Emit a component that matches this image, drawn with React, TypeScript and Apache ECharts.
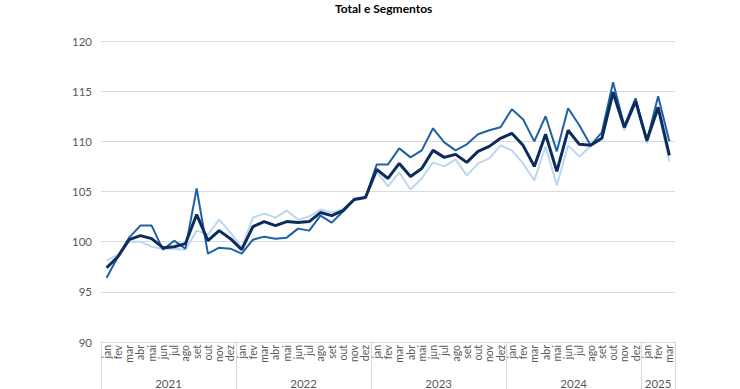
import React, { useEffect, useRef } from "react";
import * as echarts from "echarts";

const monthNames = ["jan", "fev", "mar", "abr", "mai", "jun", "jul", "ago", "set", "out", "nov", "dez"];
const years = ["2021", "2022", "2023", "2024", "2025"];
const monthsPerYear = [12, 12, 12, 12, 3];
const yTicks = [90, 95, 100, 105, 110, 115, 120];

const total = [
  97.4, 98.5, 100.2, 100.6, 100.3, 99.4, 99.5, 99.8, 102.7, 100.1, 101.1, 100.3,
  99.2, 101.5, 102.0, 101.6, 102.0, 101.9, 102.0, 102.9, 102.6, 103.1, 104.2, 104.4,
  107.2, 106.3, 107.8, 106.5, 107.3, 109.1, 108.4, 108.7, 107.9, 109.0, 109.5, 110.3,
  110.8, 109.6, 107.5, 110.7, 107.0, 111.1, 109.7, 109.6, 110.3, 114.9, 111.4, 114.0,
  110.1, 113.4, 108.6,
];
const segmentA = [
  96.4, 98.5, 100.4, 101.6, 101.6, 99.2, 100.1, 99.3, 105.3, 98.8, 99.4, 99.3,
  98.8, 100.2, 100.5, 100.3, 100.4, 101.3, 101.1, 102.6, 101.9, 103.0, 104.2, 104.4,
  107.7, 107.7, 109.3, 108.4, 109.1, 111.3, 109.9, 109.1, 109.7, 110.7, 111.1, 111.4,
  113.2, 112.2, 110.0, 112.5, 109.0, 113.3, 111.6, 109.6, 110.9, 115.9, 111.5, 114.3,
  110.0, 114.5, 110.0,
];
const segmentB = [
  98.1, 98.7, 100.0, 100.0, 99.5, 99.3, 99.3, 99.2, 101.1, 100.7, 102.2, 100.9,
  99.4, 102.4, 102.8, 102.4, 103.1, 102.2, 102.5, 103.2, 102.9, 103.2, 104.3, 104.5,
  107.0, 105.5, 106.9, 105.2, 106.3, 107.9, 107.5, 108.2, 106.6, 107.8, 108.3, 109.6,
  109.1, 107.8, 106.1, 109.5, 105.6, 109.6, 108.5, 109.5, 110.3, 114.6, 111.1, 113.8,
  109.8, 113.1, 108.0,
];

export default function App() {
  const ref = useRef<HTMLDivElement>(null);
  useEffect(() => {
    if (!ref.current) return;
    const chart = echarts.init(ref.current, undefined, { renderer: "svg" });

    const categories: string[] = [];
    const boundaries: number[] = [0];
    const centers: number[] = [];
    let acc = 0;
    years.forEach((y, yi) => {
      const n = monthsPerYear[yi];
      for (let m = 0; m < n; m++) categories.push(monthNames[m]);
      centers.push(acc + n / 2);
      acc += n;
      boundaries.push(acc);
    });
    const yearAt = (v: number) => {
      const idx = centers.findIndex((c) => Math.abs(c - v) < 0.01);
      return idx >= 0 ? years[idx] : "";
    };

    const font = "Lato, 'Open Sans', sans-serif";
    chart.setOption({
      animation: false,
      title: {
        text: "Total e Segmentos",
        left: 330,
        top: -3,
        textStyle: { fontFamily: font, fontSize: 12, fontWeight: "bold", color: "#000" },
      },
      grid: { left: 101, right: 65, top: 41, bottom: 47, containLabel: false },
      xAxis: [
        {
          type: "category",
          data: categories,
          boundaryGap: true,
          axisLine: { show: true, lineStyle: { color: "#d9d9d9", width: 1 } },
          axisTick: { show: false },
          axisLabel: {
            rotate: 90,
            interval: 0,
            margin: 3,
            fontFamily: font,
            fontSize: 10.5,
            color: "#595959",
          },
          splitLine: { show: false },
        },
        {
          type: "value",
          position: "bottom",
          min: 0,
          max: acc,
          axisLine: { show: false },
          axisTick: {
            show: true,
            customValues: boundaries,
            length: 47,
            lineStyle: { color: "#d9d9d9", width: 1 },
          },
          axisLabel: {
            customValues: centers,
            formatter: (v: number) => yearAt(v),
            margin: 35,
            fontFamily: font,
            fontSize: 11.5,
            color: "#595959",
          },
          splitLine: { show: false },
        },
      ],
      yAxis: {
        type: "value",
        min: yTicks[0],
        max: yTicks[yTicks.length - 1],
        interval: 5,
        axisLine: { show: false },
        axisTick: { show: false },
        axisLabel: { fontFamily: font, fontSize: 11.5, color: "#595959", margin: 9 },
        splitLine: { lineStyle: { color: "#d9d9d9", width: 1 } },
      },
      series: [
        {
          name: "Segmento B",
          type: "line",
          data: segmentB,
          xAxisIndex: 0,
          symbol: "none",
          lineStyle: { color: "#bdd7ee", width: 2 },
          itemStyle: { color: "#bdd7ee" },
        },
        {
          name: "Segmento A",
          type: "line",
          data: segmentA,
          xAxisIndex: 0,
          symbol: "none",
          lineStyle: { color: "#1f62a4", width: 2 },
          itemStyle: { color: "#1f62a4" },
        },
        {
          name: "Total",
          type: "line",
          data: total,
          xAxisIndex: 0,
          symbol: "none",
          lineStyle: { color: "#0c2c5c", width: 3 },
          itemStyle: { color: "#0c2c5c" },
        },
      ],
    });
    return () => chart.dispose();
  }, []);
  return <div ref={ref} style={{ width: 740, height: 389, position: "absolute", left: 0, top: 0 }} />;
}
